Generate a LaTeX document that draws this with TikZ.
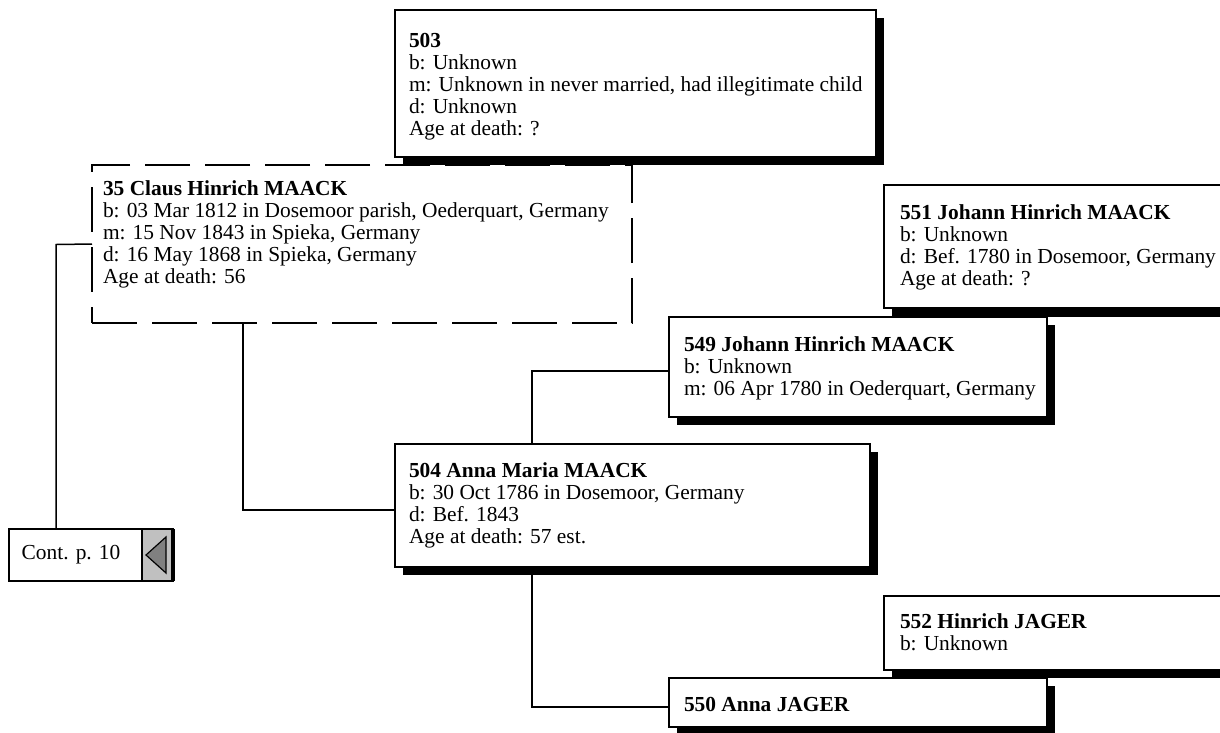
\documentclass[tikz,border=0pt]{standalone}
\usepackage{fontspec}
\setmainfont{Liberation Serif}
\usetikzlibrary{calc}
\definecolor{contgray}{HTML}{C0C0C0}
\definecolor{arrowgray}{HTML}{808080}
\tikzset{
  pbox/.style={draw=black, line width=1.5pt, fill=white, inner sep=0pt, outer sep=0pt, anchor=north west},
  dbox/.style={draw=black, line width=1.3pt, dash pattern=on 45pt off 15pt, inner sep=0pt, outer sep=0pt, anchor=north west},
  shadowfill/.style={fill=black},
  txt/.style={inner sep=0pt, outer sep=0pt, anchor=north west, align=left, font=\fontsize{21.4}{22}\selectfont},
  conn/.style={line width=1.5pt, draw=black},
}
\begin{document}
\begin{tikzpicture}[x=1pt,y=1pt]
\clip (0,0) rectangle (1220,-732);
\fill[white] (0,0) rectangle (1220,-732);

% 35 (dashed)
\node[dbox, minimum width=540pt, minimum height=158pt] (p35) at (92,-165) {};
\node[txt] (t35) at (103,-181) {\textbf{35 Claus Hinrich MAACK}\\b: 03 Mar 1812 in Dosemoor parish, Oederquart, Germany\\m: 15 Nov 1843 in Spieka, Germany\\d: 16 May 1868 in Spieka, Germany\\Age at death: 56};

% 503
\fill[shadowfill] (403,-18) rectangle (884,-165);
\node[pbox, minimum width=481pt, minimum height=147pt] (p503) at (395,-10) {};
\node[txt] (t503) at (409,-33) {\textbf{503}\\b: Unknown\\m: Unknown in never married, had illegitimate child\\d: Unknown\\Age at death: ?};

% 551
\fill[shadowfill] (892,-193) rectangle (1248,-317);
\node[pbox, minimum width=356pt, minimum height=123pt] (p551) at (884,-185) {};
\node[txt] (t551) at (900,-205) {\textbf{551 Johann Hinrich MAACK}\\b: Unknown\\d: Bef. 1780 in Dosemoor, Germany\\Age at death: ?};

% 549
\fill[shadowfill] (677,-325) rectangle (1055,-425);
\node[pbox, minimum width=378pt, minimum height=100pt] (p549) at (669,-317) {};
\node[txt] (t549) at (684,-337) {\textbf{549 Johann Hinrich MAACK}\\b: Unknown\\m: 06 Apr 1780 in Oederquart, Germany};

% 504
\fill[shadowfill] (403,-452) rectangle (878,-575);
\node[pbox, minimum width=475pt, minimum height=123pt] (p504) at (395,-444) {};
\node[txt] (t504) at (409,-463) {\textbf{504 Anna Maria MAACK}\\b: 30 Oct 1786 in Dosemoor, Germany\\d: Bef. 1843\\Age at death: 57 est.};

% 552
\fill[shadowfill] (892,-604) rectangle (1248,-678);
\node[pbox, minimum width=356pt, minimum height=74pt] (p552) at (884,-596) {};
\node[txt] (t552) at (900,-614) {\textbf{552 Hinrich JAGER}\\b: Unknown};

% 550
\fill[shadowfill] (677,-686) rectangle (1055,-740);
\node[pbox, minimum width=378pt, minimum height=49pt] (p550) at (669,-678) {};
\node[txt] (t550) at (684,-697) {\textbf{550 Anna JAGER}};

% Cont box
\node[pbox, minimum width=164pt, minimum height=52pt] (cont) at (9,-529) {};
\fill[contgray] (142,-529) rectangle (173,-581);
\draw[line width=1.2pt] (142,-529) -- (142,-581);
\draw[line width=1.5pt] (cont.north west) rectangle (cont.south east);
\fill[black] (171,-529) rectangle (175,-581);
\filldraw[fill=arrowgray, draw=black, line width=1.2pt] (146,-555) -- (166,-537) -- (166,-573) -- cycle;
\node[txt, anchor=center] (tcont) at (71,-555) {Cont. p. 10};

% connectors
\coordinate (c1) at (56,-244.5);
\draw[conn] (p35.west) -- (c1) -- (c1 |- cont.north);
\draw[conn] (p503.south -| p35.north east) -- (p35.north east);
\coordinate (c2) at (243,-323);
\draw[conn] (c2) |- ([yshift=-4.5pt]p504.west);
\draw[conn] ([xshift=137pt]p504.north west) |- ([yshift=-4pt]p549.west);
\draw[conn] ([xshift=137pt,yshift=-8pt]p504.south west) |- ([yshift=-4.5pt]p550.west);
\end{tikzpicture}
\end{document}
